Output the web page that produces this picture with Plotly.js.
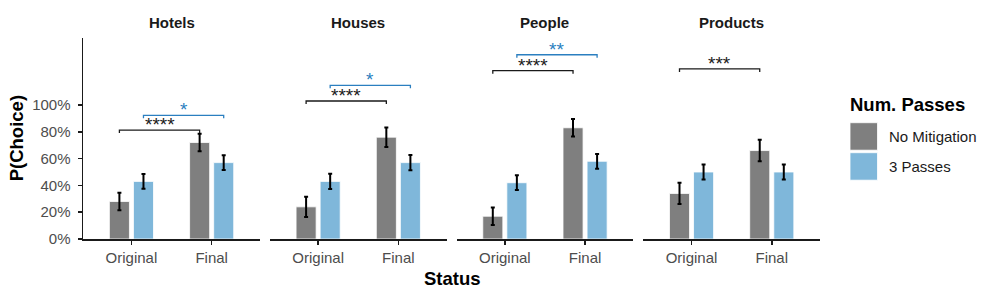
<!DOCTYPE html>
<html><head><meta charset="utf-8">
<script src="https://cdn.plot.ly/plotly-3.0.1.min.js"></script>
<style>html,body{margin:0;padding:0;background:#fff}#chart{width:996px;height:298px}</style>
</head><body><div id="chart"></div>
<script>
// ---- data ----
const panels = ['Hotels', 'Houses', 'People', 'Products'];
const statuses = ['Original', 'Final'];
const seriesNames = ['No Mitigation', '3 Passes'];

const noMitOriginal = [0.28, 0.24, 0.17, 0.34];
const noMitFinal    = [0.72, 0.76, 0.83, 0.66];
const noMitOrigErr  = [0.066, 0.075, 0.065, 0.079];
const noMitFinalErr = [0.065, 0.073, 0.066, 0.080];

const p3Original = [0.43, 0.43, 0.42, 0.50];
const p3Final    = [0.57, 0.57, 0.58, 0.50];
const p3OrigErr  = [0.055, 0.057, 0.055, 0.056];
const p3FinalErr = [0.055, 0.057, 0.055, 0.056];

// significance brackets
const bracketPanel  = ['Hotels', 'Hotels', 'Houses', 'Houses', 'People', 'People', 'Products'];
const bracketSeries = [0, 1, 0, 1, 0, 1, 0];
const bracketLevel  = [0.813, 0.923, 1.03, 1.147, 1.256, 1.375, 1.269];
const bracketLabel  = ['****', '*', '****', '*', '****', '**', '***'];

const yTickVals = [0, 0.2, 0.4, 0.6, 0.8, 1.0];

// ---- styling ----
const W = 996, H = 298;
const FONT = 'Liberation Sans, Arial, sans-serif';
const barColors = ['#7f7f7f', '#7fb7da'];
const bracketColors = ['#1a1a1a', '#2b7fc0'];
const barWidth = 0.25;
const barOffsets = [-0.275, 0.025];
const panelStart = 83.3, panelW = 176.5, panelStep = 186.7;
const yBottomPx = 239, yTopPx = 38;
const px = v => v / W;
const py = v => (H - v) / H;

const traces = [];
const layout = {
  width: W, height: H,
  margin: {l: 0, r: 0, t: 0, b: 0},
  paper_bgcolor: '#fff', plot_bgcolor: 'rgba(0,0,0,0)',
  showlegend: false,
  barmode: 'overlay',
  font: {family: FONT, size: 15, color: '#1a1a1a'},
  shapes: [], annotations: [],
  yaxis: {
    domain: [py(yBottomPx), py(yTopPx)], range: [0, 1.5],
    tickvals: yTickVals, tickformat: '.0%',
    ticks: 'outside', ticklen: 4, tickwidth: 1.5, tickcolor: '#1a1a1a',
    tickfont: {size: 15, color: '#4d4d4d'},
    ticklabelstandoff: 4,
    showline: true, linecolor: '#1a1a1a', linewidth: 1.8,
    showgrid: false, zeroline: false, fixedrange: true,
    anchor: 'x'
  }
};

panels.forEach((p, i) => {
  const ax = i === 0 ? 'x' : 'x' + (i + 1);
  const axKey = i === 0 ? 'xaxis' : 'xaxis' + (i + 1);
  const x0 = panelStart + i * panelStep;
  layout[axKey] = {
    domain: [px(x0), px(x0 + panelW)], range: [-0.6, 1.6],
    tickvals: statuses.map((s, k) => k), ticktext: statuses,
    ticks: 'outside', ticklen: 4, tickwidth: 1.5, tickcolor: '#1a1a1a',
    tickfont: {size: 15, color: '#4d4d4d'},
    showline: true, linecolor: '#1a1a1a', linewidth: 1.8,
    showgrid: false, zeroline: false, fixedrange: true,
    anchor: 'y'
  };
  const vals = [[noMitOriginal[i], noMitFinal[i]], [p3Original[i], p3Final[i]]];
  const errs = [[noMitOrigErr[i], noMitFinalErr[i]], [p3OrigErr[i], p3FinalErr[i]]];
  [0, 1].forEach(s => {
    traces.push({
      type: 'bar', name: seriesNames[s], xaxis: ax, yaxis: 'y',
      x: statuses.map((st, k) => k), y: vals[s],
      width: barWidth, offset: barOffsets[s],
      marker: {color: barColors[s], line: {color: '#ffffff', width: 0.8}},
      error_y: {type: 'data', array: errs[s], visible: true, color: '#000', thickness: 2, width: 2},
      hoverinfo: 'skip'
    });
  });
  // panel title
  layout.annotations.push({
    xref: 'paper', yref: 'paper', x: px(x0 + panelW / 2), y: py(22),
    xanchor: 'center', yanchor: 'middle', showarrow: false,
    text: '<b>' + p + '</b>', font: {size: 15, color: '#1a1a1a'}
  });
});

// brackets
const tip = 0.022;
bracketPanel.forEach((p, j) => {
  const i = panels.indexOf(p);
  const ax = i === 0 ? 'x' : 'x' + (i + 1);
  const s = bracketSeries[j];
  const xa = 0 + barOffsets[s] + barWidth / 2;
  const xb = 1 + barOffsets[s] + barWidth / 2;
  const yl = bracketLevel[j];
  layout.shapes.push({
    type: 'path', xref: ax, yref: 'y',
    path: `M ${xa},${yl - tip} L ${xa},${yl} L ${xb},${yl} L ${xb},${yl - tip}`,
    line: {color: bracketColors[s], width: 1.3}
  });
  layout.annotations.push({
    xref: ax, yref: 'y', x: (xa + xb) / 2, y: yl,
    xanchor: 'center', yanchor: 'bottom', yshift: -7, showarrow: false,
    text: bracketLabel[j], font: {size: 19, color: bracketColors[s]}
  });
});

// axis titles
layout.annotations.push({
  xref: 'paper', yref: 'paper', x: px(16), y: py(138.3), textangle: -90,
  xanchor: 'center', yanchor: 'middle', showarrow: false,
  text: '<b>P(Choice)</b>', font: {size: 18.5, color: '#000'}
});
layout.annotations.push({
  xref: 'paper', yref: 'paper', x: px(452), y: py(278),
  xanchor: 'center', yanchor: 'middle', showarrow: false,
  text: '<b>Status</b>', font: {size: 18.5, color: '#000'}
});

// legend (drawn manually)
layout.annotations.push({
  xref: 'paper', yref: 'paper', x: px(848), y: py(104),
  xanchor: 'left', yanchor: 'middle', showarrow: false,
  text: '<b>Num. Passes</b>', font: {size: 18.5, color: '#000'}
});
seriesNames.forEach((nm, s) => {
  const top = 122.7 + s * 30;
  layout.shapes.push({
    type: 'rect', xref: 'paper', yref: 'paper',
    x0: px(850), x1: px(877.5), y0: py(top + 27.5), y1: py(top),
    fillcolor: barColors[s], line: {color: '#ffffff', width: 0.8}
  });
  layout.annotations.push({
    xref: 'paper', yref: 'paper', x: px(887), y: py(top + 13.8),
    xanchor: 'left', yanchor: 'middle', showarrow: false,
    text: nm, font: {size: 15, color: '#1a1a1a'}
  });
});

Plotly.newPlot('chart', traces, layout, {displayModeBar: false, staticPlot: true});
</script>
</body></html>
